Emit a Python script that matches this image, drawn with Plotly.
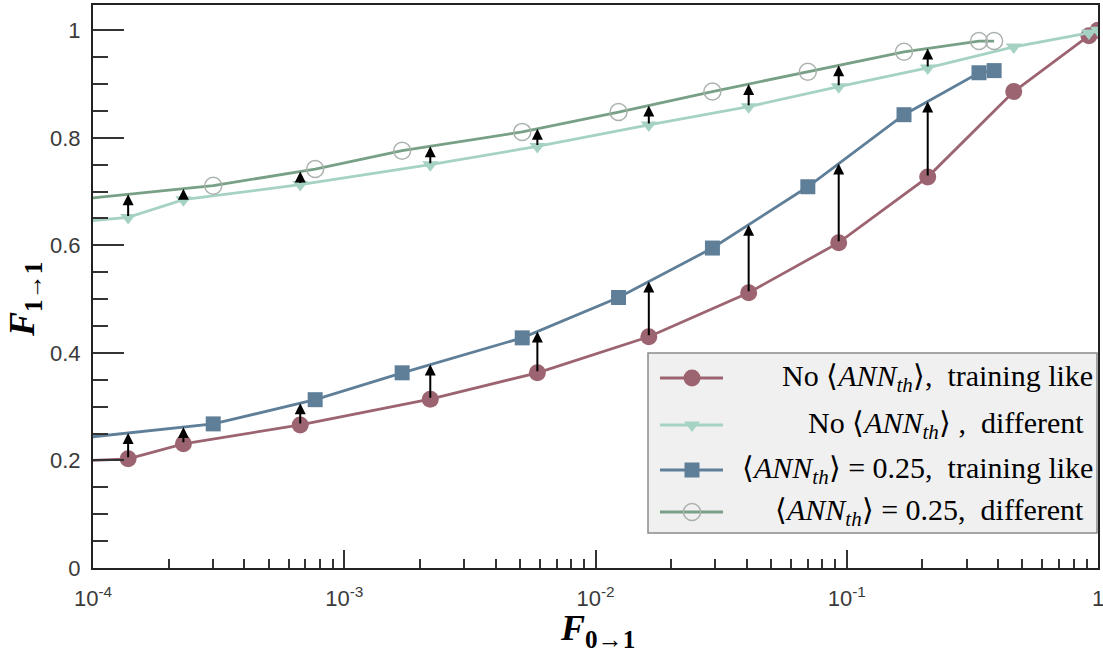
import numpy as np
import plotly.graph_objects as go

# ---------------- data ----------------
x_no = [5e-5, 1.38e-4, 2.29e-4, 6.68e-4, 2.2e-3, 5.87e-3, 1.63e-2, 4.07e-2, 0.0929, 0.210, 0.462, 0.92, 1.0]
y_no_train = [0.194, 0.203, 0.231, 0.266, 0.314, 0.363, 0.430, 0.512, 0.605, 0.727, 0.886, 0.99, 1.0]
y_no_diff = [0.634, 0.652, 0.685, 0.713, 0.750, 0.784, 0.824, 0.858, 0.895, 0.930, 0.969, 0.995, 1.0]

x_ann = [5e-5, 3.01e-4, 7.66e-4, 1.70e-3, 5.11e-3, 0.01235, 0.0292, 0.070, 0.169, 0.336, 0.386]
y_ann_train = [0.229, 0.268, 0.313, 0.363, 0.428, 0.503, 0.595, 0.709, 0.843, 0.921, 0.925]
y_ann_diff = [0.674, 0.711, 0.742, 0.776, 0.811, 0.848, 0.886, 0.923, 0.960, 0.980, 0.980]

arrow_idx = list(range(1, 10))  # No-ANN points that get an improvement arrow

x_tickvals = [1e-4, 1e-3, 1e-2, 1e-1, 1]
x_ticktext = ["10<sup>-4</sup>", "10<sup>-3</sup>", "10<sup>-2</sup>", "10<sup>-1</sup>", "1"]

legend_labels = [
    "No ⟨<i>ANN</i><sub><i>th</i></sub>⟩,  training like",
    "No ⟨<i>ANN</i><sub><i>th</i></sub>⟩ ,  different",
    "⟨<i>ANN</i><sub><i>th</i></sub>⟩ = 0.25,  training like",
    "⟨<i>ANN</i><sub><i>th</i></sub>⟩ = 0.25,  different",
]

# ---------------- styles ----------------
C_RED = "#9c6470"
C_TEAL = "#a6d2c4"
C_BLUE = "#5f7f99"
C_GREEN = "#78a086"
C_CIRC = "#aab2ad"

W, H = 1103, 656
L, R, T, B = 93, 1098, 5, 568


def px2paper(px, py):
    return (px - L) / (R - L), (B - py) / (B - T)


fig = go.Figure()

fig.add_trace(go.Scatter(x=x_no, y=y_no_train, mode="lines+markers",
                         line=dict(color=C_RED, width=2.8),
                         marker=dict(symbol="circle", size=17, color=C_RED), showlegend=False))
fig.add_trace(go.Scatter(x=x_no, y=y_no_diff, mode="lines+markers",
                         line=dict(color=C_TEAL, width=2.8),
                         marker=dict(symbol="triangle-down", size=14, color=C_TEAL), showlegend=False))
fig.add_trace(go.Scatter(x=x_ann, y=y_ann_train, mode="lines+markers",
                         line=dict(color=C_BLUE, width=2.8),
                         marker=dict(symbol="square", size=15, color=C_BLUE), showlegend=False))
fig.add_trace(go.Scatter(x=x_ann, y=y_ann_diff, mode="lines+markers",
                         line=dict(color=C_GREEN, width=2.8),
                         marker=dict(symbol="circle-open", size=17, color=C_CIRC, line=dict(width=1.5)),
                         showlegend=False))

# arrows from No-ANN points up to the ANN curves
lx_ann = np.log10(x_ann)
annotations = []
for i in arrow_idx:
    lx = np.log10(x_no[i])
    for y0, ycurve in ((y_no_train[i], y_ann_train), (y_no_diff[i], y_ann_diff)):
        y1 = float(np.interp(lx, lx_ann, ycurve))
        annotations.append(dict(x=lx, y=y1, ax=lx, ay=y0, xref="x", yref="y", axref="x", ayref="y",
                                text="", showarrow=True, arrowhead=2, arrowsize=1.1, arrowwidth=2,
                                arrowcolor="black", standoff=0, startstandoff=0))

# manual legend (pixel-based overlay axes)
leg_rows = [378, 425, 470, 512]
leg_right = [1095, 1086, 1095, 1086]
leg_styles = [
    (C_RED, dict(symbol="circle", size=17, color=C_RED)),
    (C_TEAL, dict(symbol="triangle-down", size=14, color=C_TEAL)),
    (C_BLUE, dict(symbol="square", size=15, color=C_BLUE)),
    (C_GREEN, dict(symbol="circle-open", size=17, color=C_CIRC, line=dict(width=1.5))),
]
for ry, (lc, mk) in zip(leg_rows, leg_styles):
    fig.add_trace(go.Scatter(x=[660, 723], y=[ry, ry], mode="lines", line=dict(color=lc, width=2.8),
                             xaxis="x2", yaxis="y2", showlegend=False, hoverinfo="skip"))
    fig.add_trace(go.Scatter(x=[692], y=[ry], mode="markers", marker=mk,
                             xaxis="x2", yaxis="y2", showlegend=False, hoverinfo="skip"))
for ry, rx, lab in zip(leg_rows, leg_right, legend_labels):
    annotations.append(dict(x=rx, y=ry, xref="x2", yref="y2", text=lab, showarrow=False,
                            xanchor="right", yanchor="middle",
                            font=dict(family="Liberation Serif", size=30, color="black")))

# axis titles
tx, ty = px2paper(597, 630)
annotations.append(dict(x=tx, y=ty, xref="paper", yref="paper", showarrow=False,
                        xanchor="center", yanchor="middle",
                        text="<b><i>F</i></b><sub><b>0→1</b></sub>",
                        font=dict(family="Liberation Serif", size=36, color="black")))
tx, ty = px2paper(24, 300)
annotations.append(dict(x=tx, y=ty, xref="paper", yref="paper", showarrow=False, textangle=-90,
                        xanchor="center", yanchor="middle",
                        text="<b><i>F</i></b><sub><b>1→1</b></sub>",
                        font=dict(family="Liberation Serif", size=36, color="black")))

shapes = [dict(type="rect", xref="x2", yref="y2", x0=648, x1=1097, y0=353, y1=533,
               fillcolor="#f0f0f0", line=dict(color="#8a8a8a", width=1.5), layer="below")]

minor_x = [m * 10.0 ** e for e in range(-4, 0) for m in range(2, 10)]

fig.update_layout(
    width=W, height=H,
    margin=dict(l=L, r=W - R, t=T, b=H - B, autoexpand=False),
    paper_bgcolor="white", plot_bgcolor="white",
    annotations=annotations, shapes=shapes,
    xaxis=dict(type="log", range=[-4, 0], tickmode="array", tickvals=x_tickvals, ticktext=x_ticktext,
               ticks="inside", ticklen=18, tickwidth=1.5, tickcolor="#333", automargin=False,
               ticklabeloverflow="allow",
               minor=dict(tickmode="array", tickvals=minor_x, ticks="inside", ticklen=9,
                          tickwidth=1.5, tickcolor="#333", showgrid=False),
               showgrid=False, zeroline=False, showline=True, mirror=True, linecolor="#222", linewidth=2,
               tickfont=dict(family="Liberation Sans", size=22, color="#3a3a3a"), ticklabelstandoff=10),
    yaxis=dict(range=[0, 1.047], dtick=0.2, tick0=0, ticks="inside", ticklen=31, tickwidth=1.5, tickcolor="#333",
               minor=dict(dtick=0.05, ticks="inside", ticklen=15, tickwidth=1.5, tickcolor="#333", showgrid=False),
               showgrid=False, zeroline=False, showline=True, mirror=True, linecolor="#222", linewidth=2,
               automargin=False, ticklabeloverflow="allow",
               tickfont=dict(family="Liberation Sans", size=22, color="#3a3a3a"), ticklabelstandoff=6),
    xaxis2=dict(overlaying="x", range=[L, R], visible=False, fixedrange=True),
    yaxis2=dict(overlaying="y", range=[B, T], visible=False, fixedrange=True),
)

fig.write_html("out.html")
